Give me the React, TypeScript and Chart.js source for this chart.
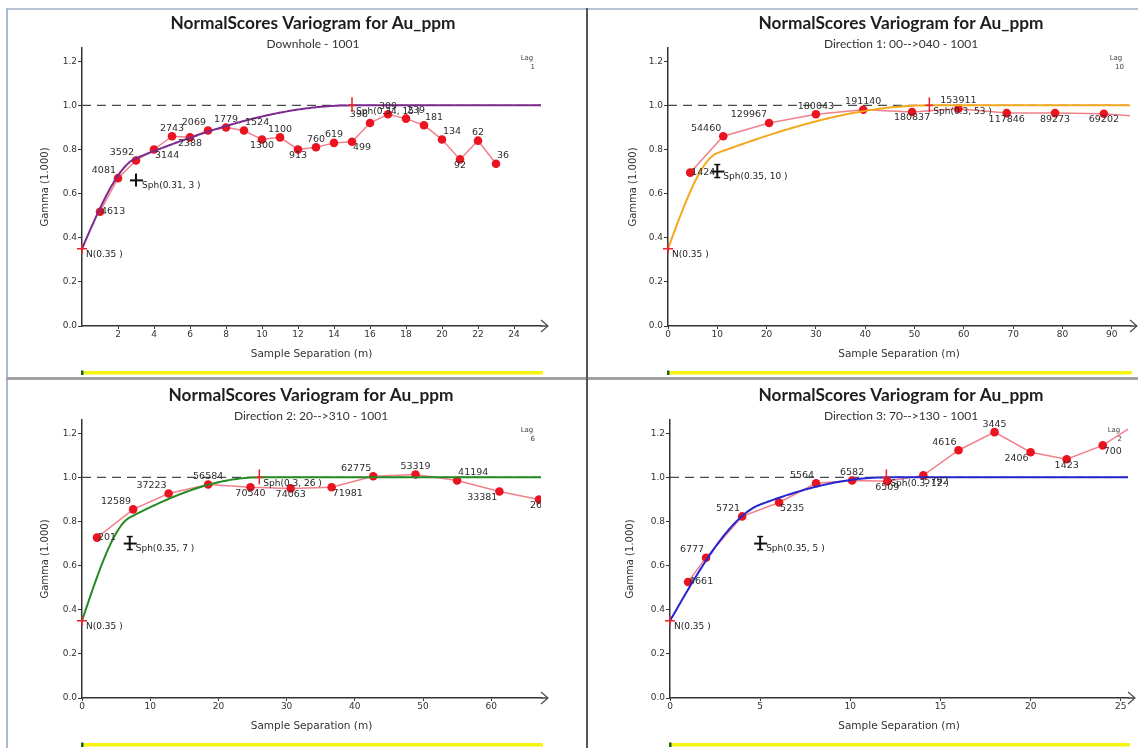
import React, { useEffect, useRef } from "react";
import { Chart, registerables } from "chart.js";

Chart.register(...registerables);

// ---------------- Downhole ----------------
const dhLags = [1, 2, 3, 4, 5, 6, 7, 8, 9, 10, 11, 12, 13, 14, 15, 16, 17, 18, 19, 20, 21, 22, 23];
const dhGamma = [0.518, 0.67, 0.75, 0.8, 0.86, 0.855, 0.886, 0.9, 0.886, 0.845, 0.855, 0.8, 0.81, 0.83, 0.835, 0.92, 0.96, 0.94, 0.91, 0.845, 0.755, 0.84, 0.735];
const dhPairs = ["4613", "4081", "3592", "3144", "2743", "2388", "2069", "1779", "1524", "1300", "1100", "913", "760", "619", "499", "398", "309", "239", "181", "134", "92", "62", "36"];
const dhLabelPos = ["r", "al", "al", "br", "a", "b", "al", "a", "ar", "b", "a", "b", "a", "a", "br", "al", "a", "ar", "ar", "ar", "b", "a", "ar"];
const dhNugget = 0.35;
const dhSills = [0.31, 0.34];
const dhRanges = [3, 15];
const dhXTicks = [2, 4, 6, 8, 10, 12, 14, 16, 18, 20, 22, 24];

// ---------------- Direction 1 ----------------
const d1Lags = [4.5, 11.2, 20.5, 30, 39.6, 49.5, 58.9, 68.7, 78.5, 88.4, 98.3];
const d1Gamma = [0.695, 0.86, 0.92, 0.96, 0.98, 0.97, 0.985, 0.965, 0.965, 0.962, 0.945];
const d1Pairs = ["1424", "54460", "129967", "180043", "191140", "180837", "153911", "117846", "89273", "69202", ""];
const d1LabelPos = ["r", "al", "al", "a", "a", "b", "a", "b", "b", "b", "b"];
const d1Nugget = 0.35;
const d1Sills = [0.35, 0.3];
const d1Ranges = [10, 53];
const d1XTicks = [0, 10, 20, 30, 40, 50, 60, 70, 80, 90];

// ---------------- Direction 2 ----------------
const d2Lags = [2.2, 7.5, 12.7, 18.5, 24.7, 30.6, 36.6, 42.7, 48.9, 55, 61.2, 67];
const d2Gamma = [0.727, 0.855, 0.927, 0.968, 0.955, 0.95, 0.955, 1.005, 1.013, 0.986, 0.936, 0.9];
const d2Pairs = ["201", "12589", "37223", "56584", "70540", "74063", "71981", "62775", "53319", "41194", "33381", "262"];
const d2LabelPos = ["r", "al", "al", "a", "b", "b", "br", "al", "a", "ar", "bl", "b"];
const d2Nugget = 0.35;
const d2Sills = [0.35, 0.3];
const d2Ranges = [7, 26];
const d2XTicks = [0, 10, 20, 30, 40, 50, 60];

// ---------------- Direction 3 ----------------
const d3Lags = [1.0, 2.0, 4.0, 6.05, 8.1, 10.1, 12.05, 14.05, 16, 18, 20, 22, 24, 26];
const d3Gamma = [0.526, 0.636, 0.823, 0.886, 0.973, 0.986, 0.982, 1.009, 1.123, 1.205, 1.114, 1.082, 1.145, 1.25];
const d3Pairs = ["4661", "6777", "5721", "5235", "5564", "6582", "6509", "5792", "4616", "3445", "2406", "1423", "700", ""];
const d3LabelPos = ["r", "al", "al", "br", "al", "a", "b", "br", "al", "a", "bl", "b", "br", "a"];
const d3Nugget = 0.35;
const d3Sills = [0.35, 0.3];
const d3Ranges = [5, 12];
const d3XTicks = [0, 5, 10, 15, 20, 25];

const yTicks = [0, 0.2, 0.4, 0.6, 0.8, 1.0, 1.2];
const chartTitle = "NormalScores Variogram for Au_ppm";

type PanelDef = {
  key: string;
  subtitle: string;
  lag: string;
  lags: number[];
  gamma: number[];
  pairs: string[];
  pos: string[];
  nugget: number;
  sills: number[];
  ranges: number[];
  xTicks: number[];
  xMax: number;
  color: string;
  capped: boolean;
  box: { x: number; y: number; w: number; h: number };
  yAxisWidth: number;
  padRight: number;
  yTitlePad: number;
  titleX: number;
};

const panels: PanelDef[] = [
  {
    key: "dh", subtitle: "Downhole - 1001", lag: "1",
    lags: dhLags, gamma: dhGamma, pairs: dhPairs, pos: dhLabelPos,
    nugget: dhNugget, sills: dhSills, ranges: dhRanges, xTicks: dhXTicks, xMax: 25.5,
    color: "#7d2a8f", capped: false,
    box: { x: 8, y: 7, w: 579, h: 369 }, yAxisWidth: 74, padRight: 46, yTitlePad: 31, titleX: 305,
  },
  {
    key: "d1", subtitle: "Direction 1: 00-->040 - 1001", lag: "10",
    lags: d1Lags, gamma: d1Gamma, pairs: d1Pairs, pos: d1LabelPos,
    nugget: d1Nugget, sills: d1Sills, ranges: d1Ranges, xTicks: d1XTicks, xMax: 93.7,
    color: "#f4a81e", capped: true,
    box: { x: 587, y: 7, w: 551, h: 369 }, yAxisWidth: 81, padRight: 8, yTitlePad: 40, titleX: 314,
  },
  {
    key: "d2", subtitle: "Direction 2: 20-->310 - 1001", lag: "6",
    lags: d2Lags, gamma: d2Gamma, pairs: d2Pairs, pos: d2LabelPos,
    nugget: d2Nugget, sills: d2Sills, ranges: d2Ranges, xTicks: d2XTicks, xMax: 67.3,
    color: "#248a24", capped: true,
    box: { x: 8, y: 379, w: 579, h: 369 }, yAxisWidth: 74, padRight: 46, yTitlePad: 31, titleX: 303,
  },
  {
    key: "d3", subtitle: "Direction 3: 70-->130 - 1001", lag: "2",
    lags: d3Lags, gamma: d3Gamma, pairs: d3Pairs, pos: d3LabelPos,
    nugget: d3Nugget, sills: d3Sills, ranges: d3Ranges, xTicks: d3XTicks, xMax: 25.4,
    color: "#2424d2", capped: true,
    box: { x: 587, y: 379, w: 551, h: 369 }, yAxisWidth: 83, padRight: 10, yTitlePad: 37, titleX: 314,
  },
];

function sphericalModel(nugget: number, sills: number[], ranges: number[], xMax: number) {
  const pts: { x: number; y: number }[] = [];
  const n = 300;
  for (let i = 0; i <= n; i++) {
    const h = (xMax * i) / n;
    let g = nugget;
    sills.forEach((c, k) => {
      const r = h / ranges[k];
      g += r >= 1 ? c : c * (1.5 * r - 0.5 * r * r * r);
    });
    pts.push({ x: h, y: g });
  }
  return pts;
}

function drawPointLabel(ctx: CanvasRenderingContext2D, text: string, px: number, py: number, pos: string) {
  let x = px;
  let y = py;
  let align: CanvasTextAlign = "center";
  switch (pos) {
    case "a": y = py - 8; break;
    case "b": y = py + 6; break;
    case "al": x = px - 2; y = py - 8; align = "right"; break;
    case "ar": x = px + 1; y = py - 8; align = "left"; break;
    case "bl": x = px - 2; y = py + 6; align = "right"; break;
    case "br": x = px + 1; y = py + 6; align = "left"; break;
    case "r": x = px + 1; y = py; align = "left"; break;
  }
  ctx.textAlign = align;
  ctx.textBaseline = "middle";
  ctx.fillText(text, x, y);
}

function seg(ctx: CanvasRenderingContext2D, x1: number, y1: number, x2: number, y2: number) {
  ctx.beginPath();
  ctx.moveTo(x1, y1);
  ctx.lineTo(x2, y2);
  ctx.stroke();
}

function makeDecor(p: PanelDef) {
  return {
    id: "decor_" + p.key,
    afterDatasetsDraw(chart: any) {
      const ctx: CanvasRenderingContext2D = chart.ctx;
      const { left, right, top, bottom } = chart.chartArea;
      const xs = chart.scales.x;
      const ys = chart.scales.y;
      ctx.save();
      // point labels (pair counts)
      ctx.beginPath();
      ctx.rect(left - 40, top - 30, right - left + 40, bottom - top + 60);
      ctx.clip();
      ctx.font = '9.5px "DejaVu Sans"';
      ctx.fillStyle = "#2e2e2e";
      const meta = chart.getDatasetMeta(1);
      meta.data.forEach((el: any, i: number) => {
        if (p.pairs[i]) drawPointLabel(ctx, p.pairs[i], el.x, el.y, p.pos[i]);
      });
      ctx.restore();

      ctx.save();
      // nugget marker
      const nx = xs.getPixelForValue(0);
      const ny = ys.getPixelForValue(p.nugget);
      ctx.strokeStyle = "#e3232b";
      ctx.lineWidth = 1.5;
      seg(ctx, nx - 5, ny, nx + 5, ny);
      seg(ctx, nx, ny - 5, nx, ny + 5);
      ctx.fillStyle = "#222";
      ctx.font = '9px "DejaVu Sans"';
      ctx.textAlign = "left";
      ctx.textBaseline = "middle";
      ctx.fillText(`N(${p.nugget} )`, nx + 4, ny + 6);

      // first structure cross
      const c1x = xs.getPixelForValue(p.ranges[0]);
      const c1y = ys.getPixelForValue(p.nugget + p.sills[0]);
      ctx.strokeStyle = "#111";
      ctx.lineWidth = 2;
      seg(ctx, c1x - 6, c1y, c1x + 7, c1y);
      seg(ctx, c1x, c1y - 7, c1x, c1y + 6);
      if (p.capped) {
        ctx.lineWidth = 1.5;
        seg(ctx, c1x - 3, c1y - 7, c1x + 3, c1y - 7);
        seg(ctx, c1x - 3, c1y + 6, c1x + 3, c1y + 6);
      }
      ctx.fillStyle = "#222";
      ctx.fillText(`Sph(${p.sills[0]}, ${p.ranges[0]} )`, c1x + 6, c1y + 5);

      // second structure marker
      const total = p.nugget + p.sills[0] + p.sills[1];
      const c2x = xs.getPixelForValue(p.ranges[1]);
      const c2y = ys.getPixelForValue(total);
      ctx.strokeStyle = "#e3232b";
      ctx.lineWidth = 1.5;
      seg(ctx, c2x, c2y - 8, c2x, c2y + 7);
      seg(ctx, c2x - 4, c2y, c2x + 4, c2y);
      ctx.fillStyle = "#222";
      ctx.fillText(`Sph(${p.sills[1]}, ${p.ranges[1]} )`, c2x + 4, c2y + 6);
      ctx.restore();
    },
    afterDraw(chart: any) {
      const ctx: CanvasRenderingContext2D = chart.ctx;
      const { left, right, top, bottom } = chart.chartArea;
      ctx.save();
      // titles
      ctx.fillStyle = "#1e1e1e";
      ctx.textAlign = "center";
      ctx.textBaseline = "middle";
      ctx.font = 'bold 17.3px Lato';
      ctx.fillText(chartTitle, p.titleX, 16);
      ctx.fillStyle = "#333";
      ctx.font = '12px Lato';
      ctx.fillText(p.subtitle, p.titleX, 37);
      // lag
      ctx.font = '7px "DejaVu Sans"';
      ctx.fillStyle = "#444";
      ctx.fillText("Lag", right - 14, top + 10);
      ctx.textAlign = "right";
      ctx.fillText(p.lag, right - 6, top + 19);
      // axis arrow
      ctx.strokeStyle = "#444";
      ctx.lineWidth = 1.5;
      seg(ctx, right, bottom, right + 7, bottom);
      ctx.lineWidth = 1.1;
      ctx.beginPath();
      ctx.moveTo(right, bottom - 6);
      ctx.lineTo(right + 7, bottom);
      ctx.lineTo(right, bottom + 6);
      ctx.stroke();
      // yellow bar
      ctx.fillStyle = "#f4f40c";
      ctx.fillRect(left, bottom + 45, right - left + 2, 3.5);
      ctx.fillStyle = "#1f5f1f";
      ctx.fillRect(left - 1, bottom + 44.5, 2.5, 4.5);
      ctx.restore();
    },
  };
}

function buildConfig(p: PanelDef): any {
  const expData = p.lags.map((x, i) => ({ x, y: p.gamma[i] }));
  const modelData = sphericalModel(p.nugget, p.sills, p.ranges, p.xMax);
  const sillLevel = p.nugget + p.sills.reduce((a, b) => a + b, 0);
  return {
    type: "line",
    data: {
      datasets: [
        {
          label: "model",
          data: modelData,
          borderColor: p.color,
          borderWidth: 2,
          pointRadius: 0,
          tension: 0,
          order: 0,
          clip: 0,
        },
        {
          label: "experimental",
          data: expData,
          borderColor: "#f0808b",
          borderWidth: 1.5,
          pointRadius: 4.3,
          pointBackgroundColor: "#ea1420",
          pointBorderColor: "#ea1420",
          pointBorderWidth: 0,
          tension: 0,
          order: 1,
          clip: 0,
        },
        {
          label: "sill",
          data: [{ x: 0, y: sillLevel }, { x: p.xMax, y: sillLevel }],
          borderColor: "#4a4a4a",
          borderWidth: 1.3,
          borderDash: [9, 6],
          pointRadius: 0,
          order: 2,
          clip: 0,
        },
      ],
    },
    options: {
      animation: false,
      responsive: false,
      devicePixelRatio: 1,
      events: [],
      layout: { padding: { left: 0, right: p.padRight, top: 41, bottom: 0 } },
      plugins: {
        legend: { display: false },
        tooltip: { enabled: false },
        title: { display: false },
      },
      scales: {
        x: {
          type: "linear",
          min: 0,
          max: p.xMax,
          afterBuildTicks: (s: any) => {
            s.ticks = p.xTicks.map((v) => ({ value: v }));
          },
          afterFit: (s: any) => {
            s.height = 50;
          },
          ticks: {
            font: { family: "DejaVu Sans", size: 9 },
            color: "#333",
            padding: 0,
            maxRotation: 0,
            autoSkip: false,
            callback: (v: any) => String(v),
          },
          grid: { display: true, drawOnChartArea: false, drawTicks: true, tickLength: 3, color: "#333", lineWidth: 1 },
          border: { display: true, color: "#333", width: 1.5 },
          title: {
            display: true,
            text: "Sample Separation (m)",
            font: { family: "DejaVu Sans", size: 10.5 },
            color: "#333",
            padding: { top: 0, bottom: 15 },
          },
        },
        y: {
          type: "linear",
          min: 0,
          max: 1.26,
          afterBuildTicks: (s: any) => {
            s.ticks = yTicks.map((v) => ({ value: v }));
          },
          afterFit: (s: any) => {
            s.width = p.yAxisWidth;
          },
          ticks: {
            font: { family: "DejaVu Sans", size: 9 },
            color: "#333",
            padding: 1,
            autoSkip: false,
            callback: (v: any) => Number(v).toFixed(1),
          },
          grid: { display: true, drawOnChartArea: false, drawTicks: true, tickLength: 4, color: "#333", lineWidth: 1 },
          border: { display: true, color: "#333", width: 1.5 },
          title: {
            display: true,
            text: "Gamma (1.000)",
            font: { family: "DejaVu Sans", size: 10 },
            color: "#333",
            padding: { top: p.yTitlePad, bottom: 0 },
          },
        },
      },
    },
    plugins: [makeDecor(p)],
  };
}

function Panel({ def }: { def: PanelDef }) {
  const ref = useRef<HTMLCanvasElement | null>(null);
  useEffect(() => {
    if (!ref.current) return;
    const chart = new Chart(ref.current, buildConfig(def));
    return () => chart.destroy();
  }, [def]);
  const { x, y, w, h } = def.box;
  return (
    <canvas
      ref={ref}
      width={w}
      height={h}
      style={{ position: "absolute", left: x, top: y, width: w, height: h, display: "block" }}
    />
  );
}

export default function App() {
  return (
    <div
      style={{
        position: "fixed",
        left: 0,
        top: 0,
        width: 1138,
        height: 748,
        background: "#ffffff",
        overflow: "hidden",
      }}
    >
      {panels.map((p) => (
        <Panel key={p.key} def={p} />
      ))}
      {/* frame lines */}
      <div style={{ position: "absolute", left: 6, top: 8, width: 1132, height: 2, background: "#b6c4d6" }} />
      <div style={{ position: "absolute", left: 6, top: 8, width: 2, height: 740, background: "#a9bbd2" }} />
      <div style={{ position: "absolute", left: 6, top: 377, width: 1132, height: 3, background: "#a2a2a2" }} />
      <div style={{ position: "absolute", left: 586, top: 8, width: 1.5, height: 740, background: "#555" }} />
    </div>
  );
}
